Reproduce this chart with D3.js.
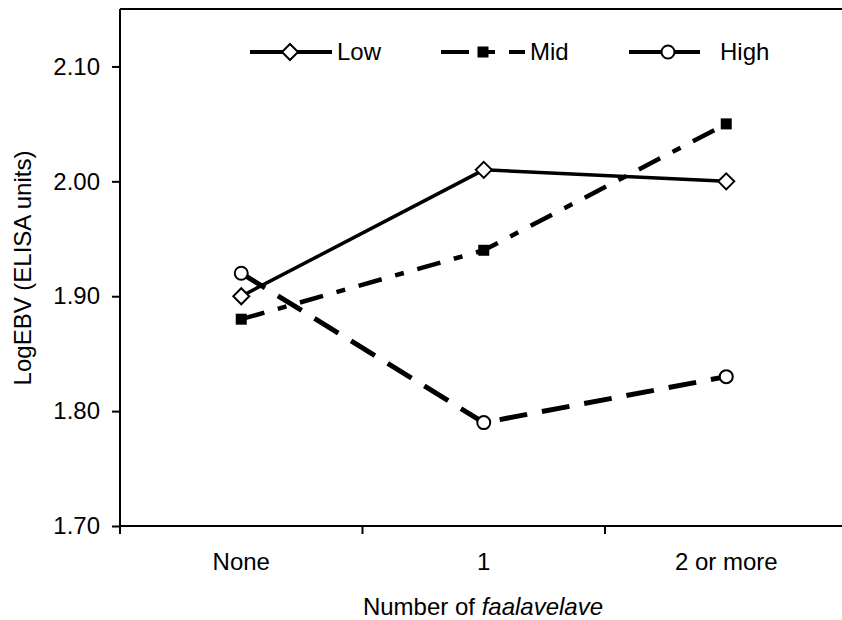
<!DOCTYPE html>
<html>
<head>
<meta charset="utf-8">
<script src="https://cdn.jsdelivr.net/npm/d3@7"></script>
<style>
  body { margin: 0; background: #fff; }
  svg text { font-family: "Liberation Sans", Arial, sans-serif; fill: #000; }
</style>
</head>
<body>
<svg id="chart" width="842" height="620"></svg>
<script>
// chart values
var categories = ['None', '1', '2 or more'];
var seriesNames = ['Low', 'Mid', 'High'];
var lowValues = [1.90, 2.01, 2.00];
var midValues = [1.88, 1.94, 2.05];
var highValues = [1.92, 1.79, 1.83];
var yTicks = [1.70, 1.80, 1.90, 2.00, 2.10];

var series = [
  { name: seriesNames[0], values: lowValues, marker: 'diamond', dash: null, width: 3.5 },
  { name: seriesNames[1], values: midValues, marker: 'square', dash: '24,14,9,14', width: 4.5 },
  { name: seriesNames[2], values: highValues, marker: 'circle', dash: '28,15', width: 5 }
];

var FS = 24;
var svg = d3.select('#chart');
var plotLeft = 120, plotRight = 847.5, plotTop = 9, plotBottom = 526;

var x = d3.scaleBand().domain(categories).range([plotLeft, plotRight]).padding(0);
var y = d3.scaleLinear().domain([1.70, 2.15]).range([plotBottom, plotTop]);
var cx = function(c) { return x(c) + x.bandwidth() / 2; };

// frame: top line
svg.append('line')
  .attr('x1', plotLeft).attr('x2', 842)
  .attr('y1', plotTop).attr('y2', plotTop)
  .attr('stroke', '#000').attr('stroke-width', 2);

// y axis
var yAxis = svg.append('g')
  .attr('transform', 'translate(' + plotLeft + ',0)')
  .call(d3.axisLeft(y).tickValues(yTicks).tickFormat(d3.format('.2f')).tickSize(8).tickPadding(12));
yAxis.select('.domain').remove();
yAxis.append('line')
  .attr('x1', 0).attr('x2', 0).attr('y1', plotTop).attr('y2', plotBottom)
  .attr('stroke', '#000').attr('stroke-width', 2);
yAxis.selectAll('.tick line').attr('stroke', '#000').attr('stroke-width', 2);
yAxis.selectAll('.tick text').attr('font-size', FS).attr('font-family', '"Liberation Sans", Arial, sans-serif');

// x axis (labels centred in bands, ticks on band edges)
var xAxis = svg.append('g')
  .attr('transform', 'translate(0,' + plotBottom + ')')
  .call(d3.axisBottom(x).tickSize(0).tickPadding(27));
xAxis.select('.domain').remove();
xAxis.selectAll('.tick text').attr('font-size', FS).attr('font-family', '"Liberation Sans", Arial, sans-serif');
xAxis.append('line')
  .attr('x1', plotLeft).attr('x2', 842).attr('y1', 0).attr('y2', 0)
  .attr('stroke', '#000').attr('stroke-width', 2);
xAxis.selectAll('line.edge')
  .data(categories)
  .enter().append('line')
  .attr('class', 'edge')
  .attr('x1', function(d) { return x(d); }).attr('x2', function(d) { return x(d); })
  .attr('y1', 0).attr('y2', 8)
  .attr('stroke', '#000').attr('stroke-width', 2);

// axis titles
svg.append('text')
  .attr('transform', 'translate(31,268) rotate(-90)')
  .attr('text-anchor', 'middle')
  .attr('font-size', FS)
  .text('LogEBV (ELISA units)');

var xt = svg.append('text')
  .attr('x', 483).attr('y', 615)
  .attr('text-anchor', 'middle')
  .attr('font-size', FS);
xt.append('tspan').text('Number of ');
xt.append('tspan').attr('font-style', 'italic').text('faalavelave');

function drawMarker(g, type, px, py) {
  if (type === 'diamond') {
    g.append('path')
      .attr('d', 'M' + px + ',' + (py - 8) + 'L' + (px + 8) + ',' + py + 'L' + px + ',' + (py + 8) + 'L' + (px - 8) + ',' + py + 'Z')
      .attr('fill', '#fff').attr('stroke', '#000').attr('stroke-width', 2);
  } else if (type === 'square') {
    g.append('rect')
      .attr('x', px - 5.5).attr('y', py - 5.5).attr('width', 11).attr('height', 11)
      .attr('fill', '#000');
  } else {
    g.append('circle')
      .attr('cx', px).attr('cy', py).attr('r', 6.5)
      .attr('fill', '#fff').attr('stroke', '#000').attr('stroke-width', 2);
  }
}

var line = d3.line()
  .x(function(d, i) { return cx(categories[i]); })
  .y(function(d) { return y(d); });

var plot = svg.append('g');
series.forEach(function(s) {
  plot.append('path')
    .datum(s.values)
    .attr('d', line)
    .attr('fill', 'none')
    .attr('stroke', '#000')
    .attr('stroke-width', s.width)
    .attr('stroke-dasharray', s.dash);
});
series.forEach(function(s) {
  s.values.forEach(function(v, i) {
    drawMarker(plot, s.marker, cx(categories[i]), y(v));
  });
});

// legend
var legendItems = [
  { x1: 250, x2: 332, mx: 290, tx: 337 },
  { x1: 441, x2: 525, mx: 483, tx: 530 },
  { x1: 629, x2: 700, mx: 668, tx: 720 }
];
var ly = 52;
var legend = svg.append('g');
series.forEach(function(s, i) {
  var it = legendItems[i];
  if (s.marker === 'square') {
    legend.append('line').attr('x1', it.x1).attr('x2', it.x1 + 28).attr('y1', ly).attr('y2', ly)
      .attr('stroke', '#000').attr('stroke-width', 4);
    legend.append('line').attr('x1', it.mx).attr('x2', it.mx + 12).attr('y1', ly).attr('y2', ly)
      .attr('stroke', '#000').attr('stroke-width', 4);
    legend.append('line').attr('x1', it.x2 - 16).attr('x2', it.x2).attr('y1', ly).attr('y2', ly)
      .attr('stroke', '#000').attr('stroke-width', 4);
  } else {
    legend.append('line').attr('x1', it.x1).attr('x2', it.x2).attr('y1', ly).attr('y2', ly)
      .attr('stroke', '#000').attr('stroke-width', 4);
  }
  drawMarker(legend, s.marker, it.mx, ly);
  legend.append('text')
    .attr('x', it.tx).attr('y', ly + 8)
    .attr('font-size', FS)
    .text(s.name);
});
</script>
</body>
</html>
